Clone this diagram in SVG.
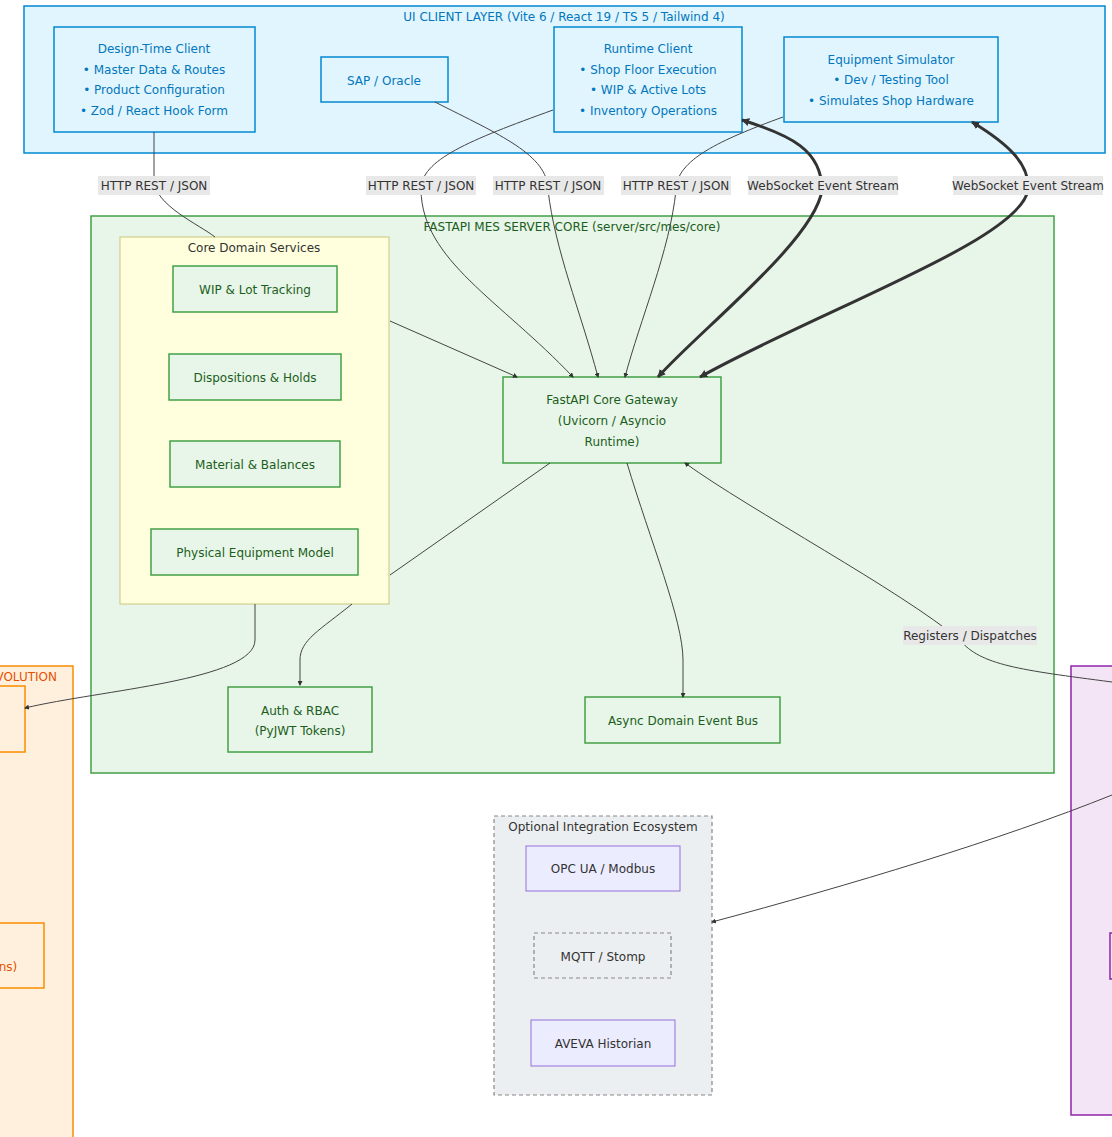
<svg xmlns="http://www.w3.org/2000/svg" width="1112" height="1137" viewBox="0 0 1112 1137">
<style>
text{font-family:"DejaVu Sans","Open Sans",sans-serif;font-size:12px;text-anchor:middle}
.ui{fill:#e1f5fe;stroke:#0288d1;stroke-width:1.5}
.uit{fill:#0277bd}
.srv{fill:#e8f5e9;stroke:#43a047;stroke-width:1.5}
.srvt{fill:#1b5e20}
.cds{fill:#ffffde;stroke:#c8c87a;stroke-width:1}
.org{fill:#fff0dd;stroke:#fb8c00;stroke-width:1.5}
.orgt{fill:#e65100}
.pur{fill:#f3e5f5;stroke:#8e24aa;stroke-width:1.5}
.int{fill:#eceff1;stroke:#888;stroke-width:1.2;stroke-dasharray:4 3}
.lav{fill:#ececff;stroke:#9370db;stroke-width:1}
.e{fill:none;stroke:#444;stroke-width:1}
.t{fill:none;stroke:#333;stroke-width:3}
.lb{fill:#e8e8e8}
.lt{fill:#333}
</style>
<defs>
<marker id="a" viewBox="0 0 10 10" refX="9" refY="5" markerWidth="8" markerHeight="8" orient="auto-start-reverse" markerUnits="userSpaceOnUse"><path d="M0,0L10,5L0,10z" fill="#333"/></marker>
<marker id="b" viewBox="0 0 10 10" refX="8" refY="5" markerWidth="5" markerHeight="5" orient="auto-start-reverse"><path d="M0,0L10,5L0,10z" fill="#333"/></marker>
</defs>
<g id="ui-layer">
<rect class="ui" x="24" y="6" width="1081" height="147"/>
<text class="uit" x="564" y="21">UI CLIENT LAYER (Vite 6 / React 19 / TS 5 / Tailwind 4)</text>
</g>
<g id="server-core">
<rect class="srv" x="91" y="216" width="963" height="557"/>
<text class="srvt" x="572" y="231">FASTAPI MES SERVER CORE (server/src/mes/core)</text>
</g>
<g id="core-domain">
<rect class="cds" x="120" y="237" width="269" height="367"/>
<text class="lt" x="254" y="252">Core Domain Services</text>
</g>
<g id="evolution">
<rect class="org" x="-10" y="666" width="83" height="480"/>
<text class="orgt" x="57" y="681" style="text-anchor:end">VOLUTION</text>
</g>
<g id="evo-node1"><rect class="org" x="-10" y="686" width="35" height="66"/></g>
<g id="evo-node2"><rect class="org" x="-10" y="923" width="54" height="65"/><text class="orgt" x="8" y="971">ns)</text></g>
<g id="right-layer"><rect class="pur" x="1071" y="666" width="60" height="449"/></g>
<g id="right-node"><rect class="pur" x="1110" y="933" width="20" height="46"/></g>
<g id="integration">
<rect class="int" x="494" y="816" width="218" height="279"/>
<text class="lt" x="603" y="831">Optional Integration Ecosystem</text>
</g>
<g id="design-client"><rect class="ui" x="54" y="27" width="201" height="105"/>
<text class="uit" x="154" y="53">Design-Time Client</text><text class="uit" x="154" y="74">• Master Data &amp; Routes</text><text class="uit" x="154" y="94">• Product Configuration</text><text class="uit" x="154" y="115">• Zod / React Hook Form</text></g>
<g id="sap"><rect class="ui" x="321" y="57" width="127" height="45"/><text class="uit" x="384" y="85">SAP / Oracle</text></g>
<g id="runtime-client"><rect class="ui" x="554" y="27" width="188" height="105"/>
<text class="uit" x="648" y="53">Runtime Client</text><text class="uit" x="648" y="74">• Shop Floor Execution</text><text class="uit" x="648" y="94">• WIP &amp; Active Lots</text><text class="uit" x="648" y="115">• Inventory Operations</text></g>
<g id="equip-sim"><rect class="ui" x="784" y="37" width="214" height="85"/>
<text class="uit" x="891" y="64">Equipment Simulator</text><text class="uit" x="891" y="84">• Dev / Testing Tool</text><text class="uit" x="891" y="105">• Simulates Shop Hardware</text></g>
<g id="wip"><rect class="srv" x="173" y="266" width="164" height="46"/><text class="srvt" x="255" y="294">WIP &amp; Lot Tracking</text></g>
<g id="disp"><rect class="srv" x="169" y="354" width="172" height="46"/><text class="srvt" x="255" y="382">Dispositions &amp; Holds</text></g>
<g id="material"><rect class="srv" x="170" y="441" width="170" height="46"/><text class="srvt" x="255" y="469">Material &amp; Balances</text></g>
<g id="physical"><rect class="srv" x="151" y="529" width="207" height="46"/><text class="srvt" x="255" y="557">Physical Equipment Model</text></g>
<g id="gateway"><rect class="srv" x="503" y="377" width="218" height="86"/>
<text class="srvt" x="612" y="404">FastAPI Core Gateway</text><text class="srvt" x="612" y="425">(Uvicorn / Asyncio</text><text class="srvt" x="612" y="446">Runtime)</text></g>
<g id="auth"><rect class="srv" x="228" y="687" width="144" height="65"/><text class="srvt" x="300" y="715">Auth &amp; RBAC</text><text class="srvt" x="300" y="735">(PyJWT Tokens)</text></g>
<g id="bus"><rect class="srv" x="585" y="697" width="195" height="46"/><text class="srvt" x="683" y="725">Async Domain Event Bus</text></g>
<g id="opc"><rect class="lav" x="526" y="846" width="154" height="45"/><text class="lt" x="603" y="873">OPC UA / Modbus</text></g>
<g id="mqtt"><rect class="int" x="534" y="933" width="137" height="45" fill="#eceff1"/><text class="lt" x="603" y="961">MQTT / Stomp</text></g>
<g id="aveva"><rect class="lav" x="531" y="1020" width="144" height="46"/><text class="lt" x="603" y="1048">AVEVA Historian</text></g>
<g id="connectors">
<path class="e" d="M154,132 V180 C154,205 200,225 215,237"/>
<path class="e" marker-end="url(#b)" d="M390,321 L517,377"/>
<path class="e" marker-end="url(#b)" d="M553,110 C470,140 420,160 421,190 C422,260 500,300 573,377"/>
<path class="e" marker-end="url(#b)" d="M435,102 C500,135 548,155 548,190 C555,250 580,310 598,377"/>
<path class="e" marker-end="url(#b)" d="M783,117 C720,140 676,160 676,190 C670,250 640,320 625,377"/>
<path class="t" marker-start="url(#a)" marker-end="url(#a)" d="M742,120 C790,135 822,150 822,190 C815,240 700,330 658,377"/>
<path class="t" marker-start="url(#a)" marker-end="url(#a)" d="M972,122 C1010,145 1030,165 1028,190 C1020,240 820,310 700,377"/>
<path class="e" d="M550,463 L390,575"/>
<path class="e" marker-end="url(#b)" d="M352,604 C320,630 300,640 300,660 V685"/>
<path class="e" marker-end="url(#b)" d="M255,604 V640 C255,680 100,690 25,708"/>
<path class="e" marker-end="url(#b)" d="M627,463 C650,540 683,620 683,660 V697"/>
<path class="e" marker-end="url(#b)" d="M1112,682 C1020,670 980,665 960,640 C900,590 750,510 685,463"/>
<path class="e" marker-end="url(#b)" d="M1112,795 C1000,840 850,885 712,922"/>
</g>
<g id="labels">
<rect class="lb" x="98" y="176" width="112" height="19"/><text class="lt" x="154" y="190">HTTP REST / JSON</text>
<rect class="lb" x="366" y="176" width="110" height="19"/><text class="lt" x="421" y="190">HTTP REST / JSON</text>
<rect class="lb" x="493" y="176" width="111" height="19"/><text class="lt" x="548" y="190">HTTP REST / JSON</text>
<rect class="lb" x="621" y="176" width="110" height="19"/><text class="lt" x="676" y="190">HTTP REST / JSON</text>
<rect class="lb" x="748" y="176" width="150" height="19"/><text class="lt" x="823" y="190">WebSocket Event Stream</text>
<rect class="lb" x="953" y="176" width="150" height="19"/><text class="lt" x="1028" y="190">WebSocket Event Stream</text>
<rect class="lb" x="903" y="626" width="134" height="19"/><text class="lt" x="970" y="640">Registers / Dispatches</text>
</g>
</svg>
